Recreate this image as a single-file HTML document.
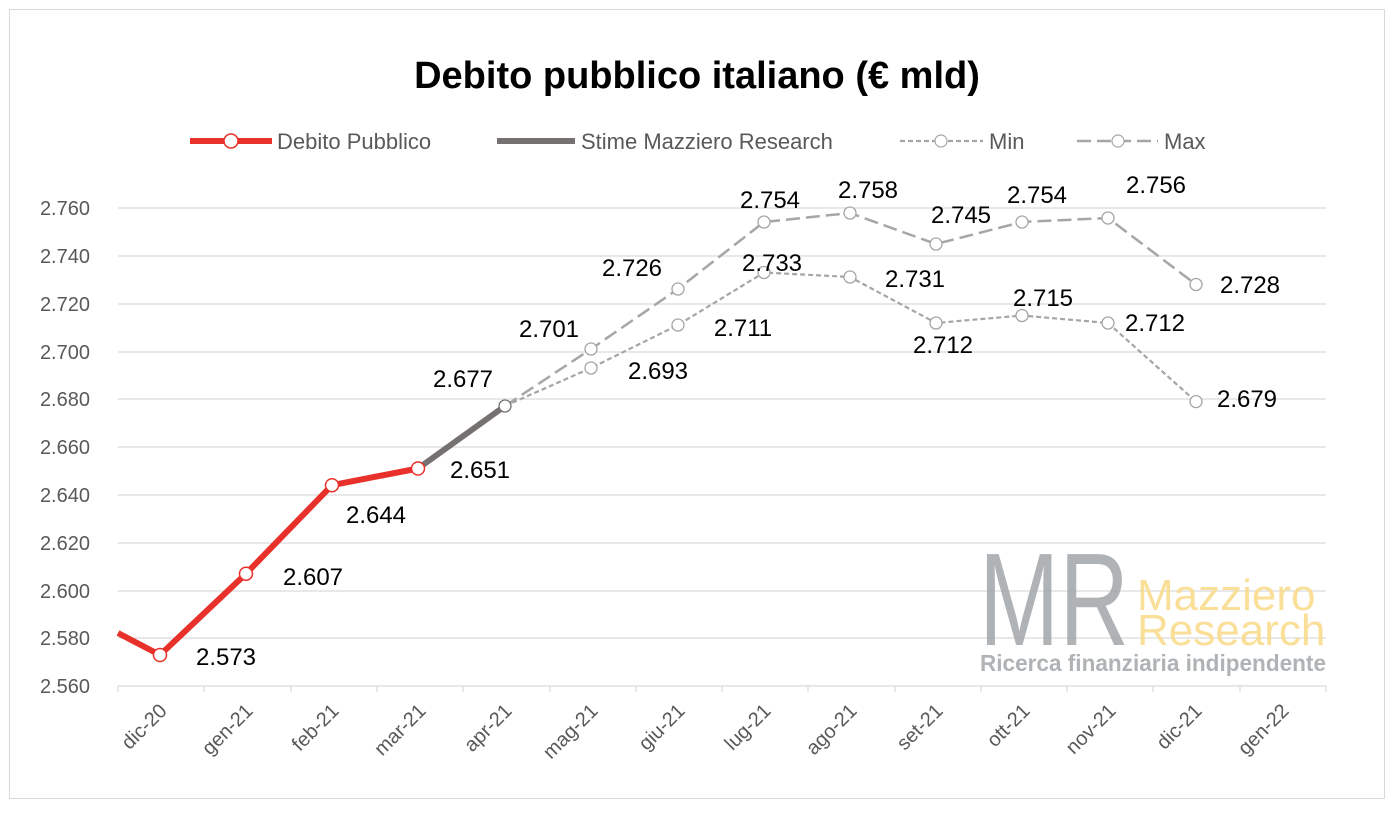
<!DOCTYPE html>
<html><head><meta charset="utf-8"><style>body{margin:0;background:#fff}</style></head><body>
<svg width="1394" height="810" xmlns="http://www.w3.org/2000/svg" font-family="Liberation Sans, sans-serif">
<rect x="0" y="0" width="1394" height="810" fill="#fff"/>
<rect x="9.5" y="9.5" width="1375" height="789" fill="none" stroke="#d9d9d9"/>
<text x="697" y="88" text-anchor="middle" font-size="38" font-weight="bold" fill="#000">Debito pubblico italiano (€ mld)</text>
<g font-size="22" fill="#595959">
<line x1="190" y1="141" x2="272" y2="141" stroke="#e8312a" stroke-width="6"/><circle cx="231" cy="141" r="7" fill="#fff" stroke="#e8312a" stroke-width="1.5"/>
<text x="277" y="149">Debito Pubblico</text>
<line x1="497" y1="141" x2="575" y2="141" stroke="#767171" stroke-width="6"/>
<text x="581" y="149">Stime Mazziero Research</text>
<line x1="900" y1="141" x2="983" y2="141" stroke="#a6a6a6" stroke-width="2.2" stroke-dasharray="5,3"/><circle cx="941" cy="141" r="6" fill="#fff" stroke="#a6a6a6" stroke-width="1.2"/>
<text x="989" y="149">Min</text>
<line x1="1077" y1="141" x2="1158" y2="141" stroke="#a6a6a6" stroke-width="2.5" stroke-dasharray="14,6"/><circle cx="1118" cy="141" r="6" fill="#fff" stroke="#a6a6a6" stroke-width="1.2"/>
<text x="1164" y="149">Max</text>
</g>
<g stroke="#d9d9d9" stroke-width="1.2">
<line x1="118" y1="208" x2="1326" y2="208"/><line x1="118" y1="256" x2="1326" y2="256"/><line x1="118" y1="304" x2="1326" y2="304"/><line x1="118" y1="352" x2="1326" y2="352"/><line x1="118" y1="399" x2="1326" y2="399"/><line x1="118" y1="447" x2="1326" y2="447"/><line x1="118" y1="495" x2="1326" y2="495"/><line x1="118" y1="543" x2="1326" y2="543"/><line x1="118" y1="591" x2="1326" y2="591"/><line x1="118" y1="638" x2="1326" y2="638"/><line x1="118" y1="686" x2="1326" y2="686"/>
<line x1="118" y1="686" x2="118" y2="692"/><line x1="204" y1="686" x2="204" y2="692"/><line x1="291" y1="686" x2="291" y2="692"/><line x1="377" y1="686" x2="377" y2="692"/><line x1="463" y1="686" x2="463" y2="692"/><line x1="550" y1="686" x2="550" y2="692"/><line x1="636" y1="686" x2="636" y2="692"/><line x1="722" y1="686" x2="722" y2="692"/><line x1="808" y1="686" x2="808" y2="692"/><line x1="895" y1="686" x2="895" y2="692"/><line x1="981" y1="686" x2="981" y2="692"/><line x1="1067" y1="686" x2="1067" y2="692"/><line x1="1153" y1="686" x2="1153" y2="692"/><line x1="1240" y1="686" x2="1240" y2="692"/><line x1="1326" y1="686" x2="1326" y2="692"/>
</g>
<g font-size="20" fill="#595959" text-anchor="end">
<text x="90" y="215">2.760</text><text x="90" y="263">2.740</text><text x="90" y="311">2.720</text><text x="90" y="359">2.700</text><text x="90" y="406">2.680</text><text x="90" y="454">2.660</text><text x="90" y="502">2.640</text><text x="90" y="550">2.620</text><text x="90" y="598">2.600</text><text x="90" y="645">2.580</text><text x="90" y="693">2.560</text>
</g>
<g font-size="20" fill="#595959" text-anchor="end">
<text transform="translate(168,712) rotate(-45)">dic-20</text>
<text transform="translate(254,712) rotate(-45)">gen-21</text>
<text transform="translate(340,712) rotate(-45)">feb-21</text>
<text transform="translate(427,712) rotate(-45)">mar-21</text>
<text transform="translate(513,712) rotate(-45)">apr-21</text>
<text transform="translate(599,712) rotate(-45)">mag-21</text>
<text transform="translate(686,712) rotate(-45)">giu-21</text>
<text transform="translate(772,712) rotate(-45)">lug-21</text>
<text transform="translate(858,712) rotate(-45)">ago-21</text>
<text transform="translate(944,712) rotate(-45)">set-21</text>
<text transform="translate(1031,712) rotate(-45)">ott-21</text>
<text transform="translate(1117,712) rotate(-45)">nov-21</text>
<text transform="translate(1203,712) rotate(-45)">dic-21</text>
<text transform="translate(1290,712) rotate(-45)">gen-22</text>
</g>
<g opacity="0.9">
<text x="979" y="645" font-size="132" fill="#a7abae" textLength="150" lengthAdjust="spacingAndGlyphs">MR</text>
<text x="1137" y="610" font-size="44" fill="#f9dc8c">Mazziero</text>
<text x="1137" y="645" font-size="44" fill="#f9dc8c">Research</text>
<text x="980" y="671" font-size="23" font-weight="bold" fill="#a7abae" textLength="346" lengthAdjust="spacingAndGlyphs">Ricerca finanziaria indipendente</text>
</g>
<polyline points="505,406 591,368 678,325 764,272.5 850,277 936,323 1022,315.5 1108,323 1196,401.6" fill="none" stroke="#a6a6a6" stroke-width="2.2" stroke-dasharray="5,3"/>
<polyline points="505,406 591,349 678,289 764,222 850,213 936,244 1022,222 1108,218 1196,284.5" fill="none" stroke="#a6a6a6" stroke-width="2.5" stroke-dasharray="14,6"/>
<polyline points="418,468.5 505,406" fill="none" stroke="#767171" stroke-width="6"/>
<polyline points="118,633 160,655 246,573.7 332,485.2 418,468.5" fill="none" stroke="#e8312a" stroke-width="6" stroke-linejoin="round"/>
<g fill="#fff" stroke="#a6a6a6" stroke-width="1.3">
<circle cx="591" cy="368" r="6"/><circle cx="678" cy="325" r="6"/><circle cx="764" cy="272.5" r="6"/><circle cx="850" cy="277" r="6"/><circle cx="936" cy="323" r="6"/><circle cx="1022" cy="315.5" r="6"/><circle cx="1108" cy="323" r="6"/><circle cx="1196" cy="401.6" r="6"/>
<circle cx="591" cy="349" r="6"/><circle cx="678" cy="289" r="6"/><circle cx="764" cy="222" r="6"/><circle cx="850" cy="213" r="6"/><circle cx="936" cy="244" r="6"/><circle cx="1022" cy="222" r="6"/><circle cx="1108" cy="218" r="6"/><circle cx="1196" cy="284.5" r="6"/>
<circle cx="505" cy="406" r="6" stroke="#767171"/>
</g>
<g fill="#fff" stroke="#e8312a" stroke-width="1.5">
<circle cx="160" cy="655" r="6.5"/><circle cx="246" cy="573.7" r="6.5"/><circle cx="332" cy="485.2" r="6.5"/><circle cx="418" cy="468.5" r="6.5"/>
</g>
<g font-size="24" fill="#000" text-anchor="middle">
<text x="226" y="665">2.573</text><text x="313" y="585">2.607</text><text x="376" y="523">2.644</text><text x="480" y="478">2.651</text>
<text x="463" y="387">2.677</text><text x="549" y="337">2.701</text><text x="658" y="379">2.693</text><text x="632" y="276">2.726</text><text x="743" y="336">2.711</text>
<text x="770" y="208">2.754</text><text x="772" y="271">2.733</text><text x="868" y="198">2.758</text><text x="915" y="287">2.731</text><text x="961" y="223">2.745</text><text x="943" y="353">2.712</text>
<text x="1037" y="203">2.754</text><text x="1043" y="306">2.715</text><text x="1156" y="193">2.756</text><text x="1155" y="331">2.712</text><text x="1250" y="293">2.728</text><text x="1247" y="407">2.679</text>
</g>
</svg>
</body></html>
